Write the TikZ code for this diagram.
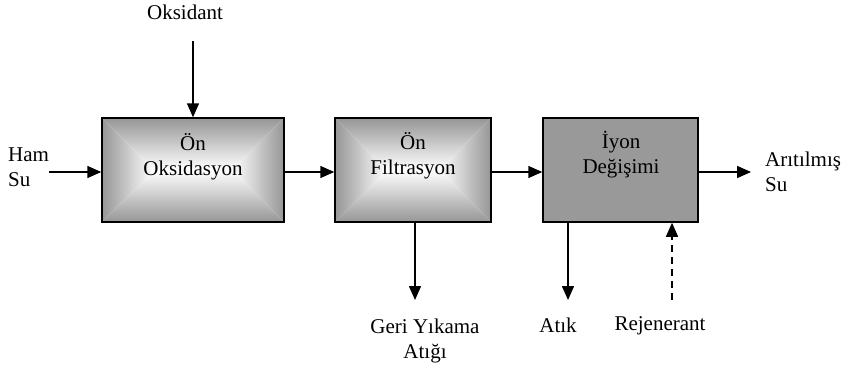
\documentclass[tikz,border=0pt]{standalone}
\usepackage{fontspec}
\setmainfont{Liberation Serif}
\usetikzlibrary{arrows.meta,calc}
\definecolor{edgegray}{RGB}{150,150,150}
\definecolor{flatgray}{RGB}{153,153,153}
\tikzset{
  arr/.style={line width=1.5pt,-{Triangle[length=14pt,width=12pt]}},
  darr/.style={arr,dash pattern=on 7pt off 5pt},
  lbl/.style={font=\fontsize{21}{25}\selectfont,inner sep=0pt,align=center,anchor=base},
  llbl/.style={lbl,align=left,anchor=base west},
  boxbase/.style={draw,line width=1.5pt,minimum height=104pt,inner sep=0pt},
  gbox/.style={boxbase,path picture={
    \coordinate (pnw) at (path picture bounding box.north west);
    \coordinate (pne) at (path picture bounding box.north east);
    \coordinate (psw) at (path picture bounding box.south west);
    \coordinate (pse) at (path picture bounding box.south east);
    \coordinate (pl) at ($(pnw)!0.5!(psw)+(52pt,0pt)$);
    \coordinate (pr) at ($(pne)!0.5!(pse)+(-52pt,0pt)$);
    \shade[top color=edgegray,bottom color=white] (pnw)--(pne)--(pr)--(pl)--cycle;
    \shade[bottom color=edgegray,top color=white] (psw)--(pse)--(pr)--(pl)--cycle;
    \shade[left color=edgegray,right color=white] (pnw)--(pl)--(psw)--cycle;
    \shade[right color=edgegray,left color=white] (pne)--(pr)--(pse)--cycle;
  }},
  fbox/.style={boxbase,fill=flatgray},
}
\begin{document}
\begin{tikzpicture}[x=1pt,y=-1pt]
\useasboundingbox (0,0) rectangle (845,364);
% boxes
\node[gbox,minimum width=182pt] (b1) at (193,170) {};
\node[gbox,minimum width=156pt] (b2) at (413,170) {};
\node[fbox,minimum width=155pt] (b3) at (620.5,170) {};
% box texts (base = last line)
\node[lbl] (t1) at (193,175) {Ön\\Oksidasyon};
\node[lbl] (t2) at (413,174) {Ön\\Filtrasyon};
\node[lbl] (t3) at (621,173) {İyon\\Değişimi};
% outside labels
\node[lbl] (oks) at (185,19) {Oksidant};
\node[llbl] (ham) at (8,186) {Ham\\Su};
\node[llbl] (ari) at (765,191) {Arıtılmış\\Su};
\node[lbl] (geri) at (425,358) {Geri Yıkama\\Atığı};
\node[lbl] (atik) at (558,332) {Atık};
\node[lbl] (rej) at (660,330) {Rejenerant};
% free ends
\coordinate (oksE) at (193,41);
\coordinate (hamE) at (49,172);
\coordinate (ariE) at (751,172);
\coordinate (geriE) at (415,300);
\coordinate (atikE) at (568,300);
\coordinate (rejE) at (672,300);
% connectors
\draw[arr] (oksE) -- (b1.north);
\draw[arr] (hamE) -- (b1.west |- hamE);
\draw[arr] (b1.east |- hamE) -- (b2.west |- hamE);
\draw[arr] (b2.east |- hamE) -- (b3.west |- hamE);
\draw[arr] (b3.east |- hamE) -- (ariE);
\draw[arr] (b2.south -| geriE) -- (geriE);
\draw[arr] (b3.south -| atikE) -- (atikE);
\draw[darr] (rejE) -- (b3.south -| rejE);
\end{tikzpicture}
\end{document}
